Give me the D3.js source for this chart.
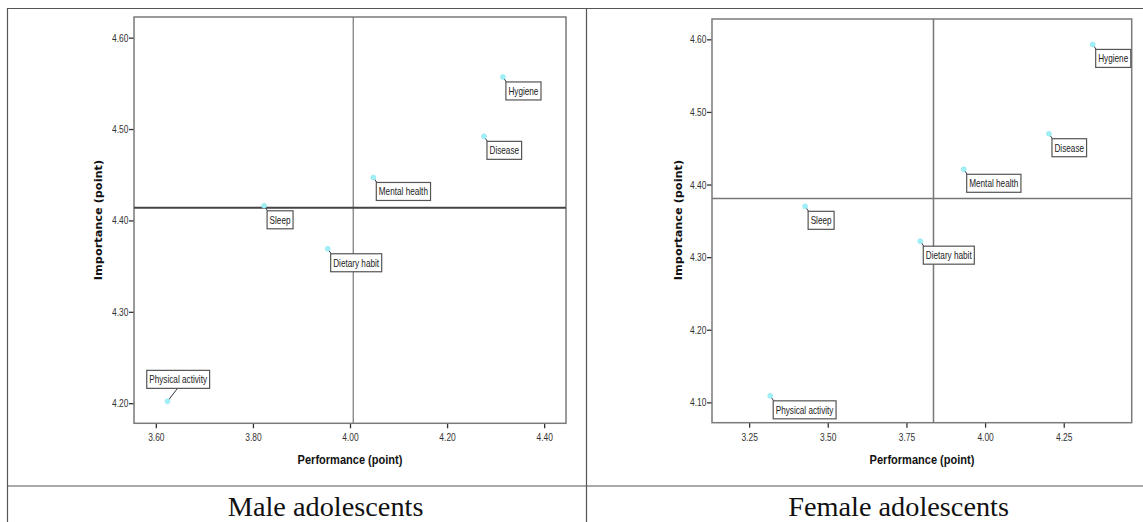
<!DOCTYPE html>
<html>
<head>
<meta charset="utf-8">
<script src="https://cdn.jsdelivr.net/npm/d3@7"></script>
<style>
  html, body { margin: 0; padding: 0; background: #fff; }
  svg { display: block; }
</style>
</head>
<body>
<svg id="chart" width="1143" height="522"></svg>
<script>
// ---------------- DATA ----------------
const categories = ["Hygiene", "Disease", "Mental health", "Sleep", "Dietary habit", "Physical activity"];

const malePerformance  = [4.315, 4.276, 4.048, 3.823, 3.954, 3.624];
const maleImportance   = [4.557, 4.492, 4.447, 4.416, 4.369, 4.202];
const femalePerformance = [4.342, 4.203, 3.932, 3.428, 3.794, 3.317];
const femaleImportance  = [4.593, 4.470, 4.421, 4.370, 4.322, 4.109];

const maleXTicks = [3.60, 3.80, 4.00, 4.20, 4.40];
const maleYTicks = [4.20, 4.30, 4.40, 4.50, 4.60];
const femaleXTicks = [3.25, 3.50, 3.75, 4.00, 4.25];
const femaleYTicks = [4.10, 4.20, 4.30, 4.40, 4.50, 4.60];

const panelTitles = ["Male adolescents", "Female adolescents"];
const xAxisTitle = "Performance (point)";
const yAxisTitle = "Importance (point)";

// label placement (layout only)
const maleLabelSide = ["below", "below", "below", "below", "below", "above"];
const femaleLabelSide = ["below", "below", "below", "below", "below", "below"];

// ---------------- LAYOUT ----------------
const svg = d3.select("#chart");

// table lines
const tableColor = "#555";
svg.append("line").attr("x1", 7).attr("x2", 1143).attr("y1", 8.5).attr("y2", 8.5).attr("stroke", tableColor).attr("stroke-width", 1.2);
svg.append("line").attr("x1", 7).attr("x2", 1143).attr("y1", 486).attr("y2", 486).attr("stroke", tableColor).attr("stroke-width", 1.2);
svg.append("line").attr("x1", 7.5).attr("x2", 7.5).attr("y1", 8).attr("y2", 522).attr("stroke", tableColor).attr("stroke-width", 1.2);
svg.append("line").attr("x1", 586.5).attr("x2", 586.5).attr("y1", 8).attr("y2", 522).attr("stroke", tableColor).attr("stroke-width", 1.2);

const panels = [
  {
    perf: malePerformance, imp: maleImportance, xTicks: maleXTicks, yTicks: maleYTicks,
    xDomain: [3.555, 4.445], yDomain: [4.178, 4.6226],
    left: 134, right: 566, top: 17, bottom: 423.3,
    sides: maleLabelSide, title: panelTitles[0], titleX: 325.6,
    yTitleX: 98, xTitleX: 350, hColor: "#444", hWidth: 2, vColor: "#777", vWidth: 1.2,
    xFmt: d3.format(".2f")
  },
  {
    perf: femalePerformance, imp: femaleImportance, xTicks: femaleXTicks, yTicks: femaleYTicks,
    xDomain: [3.132, 4.466], yDomain: [4.072, 4.628],
    left: 712, right: 1131.7, top: 19, bottom: 422.7,
    sides: femaleLabelSide, title: panelTitles[1], titleX: 898.6,
    yTitleX: 678, xTitleX: 922, hColor: "#777", hWidth: 1.5, vColor: "#777", vWidth: 1.5,
    xFmt: d3.format(".2f")
  }
];

const TX = 0.82; // horizontal condensing of SPSS-like small text

panels.forEach(p => {
  const x = d3.scaleLinear().domain(p.xDomain).range([p.left, p.right]);
  const y = d3.scaleLinear().domain(p.yDomain).range([p.bottom, p.top]);
  const g = svg.append("g");

  // x axis
  const xAxis = g.append("g")
    .attr("transform", `translate(0,${p.bottom})`)
    .call(d3.axisBottom(x).tickValues(p.xTicks).tickFormat(p.xFmt).tickSize(5).tickSizeOuter(0));
  xAxis.select(".domain").remove();
  xAxis.selectAll(".tick line").attr("stroke", "#333").attr("stroke-width", 1.3);
  xAxis.selectAll(".tick text")
    .attr("y", 18).attr("dy", 0)
    .attr("transform", `scale(${TX},1)`)
    .attr("font-family", "Liberation Sans, Arial, sans-serif")
    .attr("font-size", 10.3).attr("fill", "#333");

  // y axis
  const yAxis = g.append("g")
    .attr("transform", `translate(${p.left},0)`)
    .call(d3.axisLeft(y).tickValues(p.yTicks).tickFormat(d3.format(".2f")).tickSize(5).tickSizeOuter(0));
  yAxis.select(".domain").remove();
  yAxis.selectAll(".tick line").attr("stroke", "#333").attr("stroke-width", 1.3);
  yAxis.selectAll(".tick text")
    .attr("x", -5.5 / TX).attr("dy", 3.5)
    .attr("transform", `scale(${TX},1)`)
    .attr("font-family", "Liberation Sans, Arial, sans-serif")
    .attr("font-size", 10.3).attr("fill", "#333");

  // frame
  g.append("rect")
    .attr("x", p.left).attr("y", p.top)
    .attr("width", p.right - p.left).attr("height", p.bottom - p.top)
    .attr("fill", "none").attr("stroke", "#7a7a7a").attr("stroke-width", 1.5);

  // reference lines (means)
  const mx = d3.mean(p.perf), my = d3.mean(p.imp);
  g.append("line")
    .attr("x1", x(mx)).attr("x2", x(mx)).attr("y1", p.top).attr("y2", p.bottom)
    .attr("stroke", p.vColor).attr("stroke-width", p.vWidth);
  g.append("line")
    .attr("x1", p.left).attr("x2", p.right).attr("y1", y(my)).attr("y2", y(my))
    .attr("stroke", p.hColor).attr("stroke-width", p.hWidth);

  // points & labels
  categories.forEach((c, i) => {
    const px = x(p.perf[i]), py = y(p.imp[i]);
    const lg = g.append("g");
    const line = lg.append("line").attr("stroke", "#334").attr("stroke-width", 1);
    const rect = lg.append("rect").attr("fill", "#fff").attr("stroke", "#555").attr("stroke-width", 1.2);
    const t = lg.append("text")
      .attr("font-family", "Liberation Sans, Arial, sans-serif")
      .attr("font-size", 10).attr("fill", "#222")
      .text(c);
    const tw = t.node().getComputedTextLength() * TX;
    const bw = tw + 5, bh = 18;
    let bx, by, lx, ly;
    if (p.sides[i] === "above") { bx = px - 0.33 * bw; by = py - 13 - bh; lx = px + 10; ly = by + bh; }
    else { bx = px + 3; by = py + 5; lx = bx + 0.5; ly = by; }
    rect.attr("x", bx).attr("y", by).attr("width", bw).attr("height", bh);
    t.attr("transform", `translate(${bx + 2.5},${by + 12.8}) scale(${TX},1)`);
    line.attr("x1", px).attr("y1", py).attr("x2", lx).attr("y2", ly);
    lg.append("circle").attr("cx", px).attr("cy", py).attr("r", 2.5)
      .attr("fill", "#9ff0f7").attr("stroke", "#86e3ee").attr("stroke-width", 0.5);
  });

  // axis titles
  g.append("text")
    .attr("transform", `translate(${p.yTitleX},220) rotate(-90)`)
    .attr("text-anchor", "middle").attr("dy", "0.36em")
    .attr("font-family", "DejaVu Sans, Verdana, sans-serif").attr("font-weight", "bold")
    .attr("font-size", 11.3).attr("fill", "#111")
    .text(yAxisTitle);
  g.append("text")
    .attr("transform", `translate(${p.xTitleX},464) scale(0.92,1)`)
    .attr("text-anchor", "middle")
    .attr("font-family", "Liberation Sans, Arial, sans-serif").attr("font-weight", "bold")
    .attr("font-size", 12).attr("fill", "#111")
    .text(xAxisTitle);

  // panel title
  svg.append("text")
    .attr("x", p.titleX).attr("y", 516)
    .attr("text-anchor", "middle")
    .attr("font-family", "Liberation Serif, Times New Roman, serif")
    .attr("font-size", 28.3).attr("fill", "#111")
    .text(p.title);
});
</script>
</body>
</html>
